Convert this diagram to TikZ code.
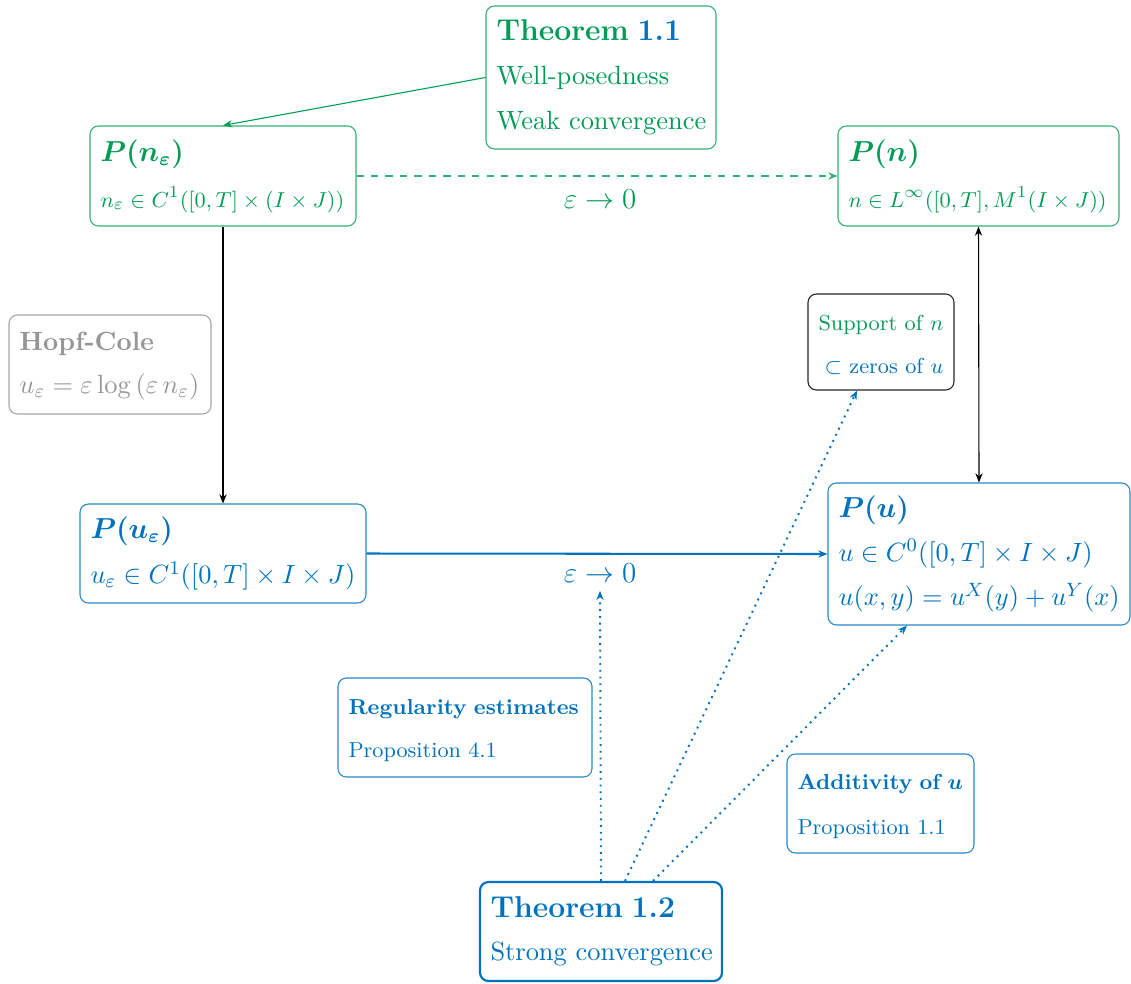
\documentclass[tikz,border=0pt]{standalone}
\usepackage{amsmath}
\usetikzlibrary{arrows.meta,calc}
\definecolor{cgreen}{RGB}{0,155,85}
\definecolor{cblue}{RGB}{0,114,189}
\definecolor{cgray}{RGB}{150,150,150}
\newcommand{\ttlfont}{\fontsize{12}{14.5}\selectfont}
\newcommand{\thmfont}{\fontsize{12.5}{15}\selectfont}
\newcommand{\smfont}{\fontsize{9.4}{11.5}\selectfont}
\newcommand{\oneline}[1]{\mbox{#1}}
\begin{document}
\begin{tikzpicture}[x=0.41494pt,y=-0.41494pt,
  bx/.style 2 args={minimum width=#1*0.41494pt, minimum height=#2*0.41494pt, text width=(#1-21)*0.41494pt},
  box/.style={draw, rounded corners=3.5pt, align=left, inner sep=0pt, line width=0.45pt,
              font=\fontsize{10.95}{13.6}\selectfont},
  fnbox/.style={box, font=\fontsize{9}{11}\selectfont},
  gbox/.style={box, draw=cgreen!80, text=cgreen},
  bbox/.style={box, draw=cblue!85, text=cblue},
  tip/.style={-{Stealth[length=3.8pt,width=3pt]}},
  lbl/.style={font=\ttlfont},
]
\useasboundingbox (0,0) rectangle (1131,983);

% boxes
\node[gbox, bx={230}{143}] (th11) at (601,77.5)
  {\oneline{\thmfont\bfseries Theorem {\color{cblue}1.1}}\\[4.7pt]\oneline{Well-posedness}\\[4.9pt]\oneline{Weak convergence}};
\node[gbox, bx={266}{100}] (pne) at (223,176)
  {\oneline{\ttlfont$\boldsymbol{P(n_\varepsilon)}$}\\[5.4pt]\oneline{\smfont$n_\varepsilon\in C^1([0,T]\times(I\times J))$}};
\node[gbox, bx={281}{100}] (pn) at (978.5,176)
  {\oneline{\ttlfont$\boldsymbol{P(n)}$}\\[5.4pt]\oneline{\smfont$n\in L^\infty([0,T],M^1(I\times J))$}};
\node[box, draw=cgray!85, text=cgray, bx={202}{99}] (hc) at (110,364.5)
  {\oneline{\rule{0pt}{9.2pt}\bfseries Hopf-Cole}\\[4.3pt]\oneline{$u_\varepsilon=\varepsilon\log\left(\varepsilon\,n_\varepsilon\right)$}};
\node[bbox, bx={286}{99}] (pue) at (223,553.5)
  {\oneline{\ttlfont$\boldsymbol{P(u_\varepsilon)}$}\\[5.4pt]\oneline{$u_\varepsilon\in C^1([0,T]\times I\times J)$}};
\node[bbox, bx={302}{142}] (pu) at (979,554)
  {\oneline{\ttlfont$\boldsymbol{P(u)}$}\\[4.7pt]\oneline{$u\in C^0([0,T]\times I\times J)$}\\[4.7pt]\oneline{$u(x,y)=u^X(y)+u^Y(x)$}};
\node[fnbox, draw=black!85, align=right, minimum width=146*0.41494pt, minimum height=96*0.41494pt] (sup) at (881,342)
  {{\rule{0pt}{8.8pt}\color{cgreen}Support of $n$}\\[6.9pt]{\color{cblue}$\subset$ zeros of $u$}};
\node[fnbox, draw=cblue!85, text=cblue, bx={254}{99}] (reg) at (465,727.5)
  {\oneline{\rule{0pt}{8.8pt}\bfseries Regularity estimates}\\[6.9pt]\oneline{Proposition 4.1}};
\node[fnbox, draw=cblue!85, text=cblue, bx={187}{99}] (add) at (880.5,803.5)
  {\oneline{\rule{0pt}{8.8pt}\bfseries Additivity of $\boldsymbol{u}$}\\[7.7pt]\oneline{Proposition 1.1}};
\node[bbox, draw=cblue, line width=0.9pt, bx={242}{99}] (th12) at (601,931.5)
  {\oneline{\thmfont\bfseries Theorem 1.2}\\[4.1pt]\oneline{Strong convergence}};

% labels
\node[lbl, text=cgreen] (eps1) at (600,199) {$\varepsilon\to0$};
\node[lbl, text=cblue] (eps2) at (600,573) {$\varepsilon\to0$};

% connectors
\draw[tip, cgreen, line width=0.45pt] (th11.west) -- (pne.north);
\draw[tip, cgreen!80, dashed, line width=0.45pt] (pne.east) -- (pn.west);
\draw[tip, black, line width=0.45pt] (pne.south) -- (pue.north);
\draw[{Stealth[length=3.8pt,width=3pt]}-{Stealth[length=3.8pt,width=3pt]}, black, line width=0.45pt] (pn.south) -- (pu.north);
\draw[tip, cblue, line width=0.85pt] (pue.east) -- (pu.west);
\draw[tip, cblue, line width=0.8pt, dotted] (th12.north) -- (eps2.south);
\draw[tip, cblue, line width=0.8pt, dotted] ($(th12.north)+(24,0)$) -- ($(sup.south)+(-24,0)$);
\draw[tip, cblue, line width=0.8pt, dotted] ($(th12.north)+(52,0)$) -- ($(pu.south)+(-72,0)$);
\end{tikzpicture}
\end{document}
